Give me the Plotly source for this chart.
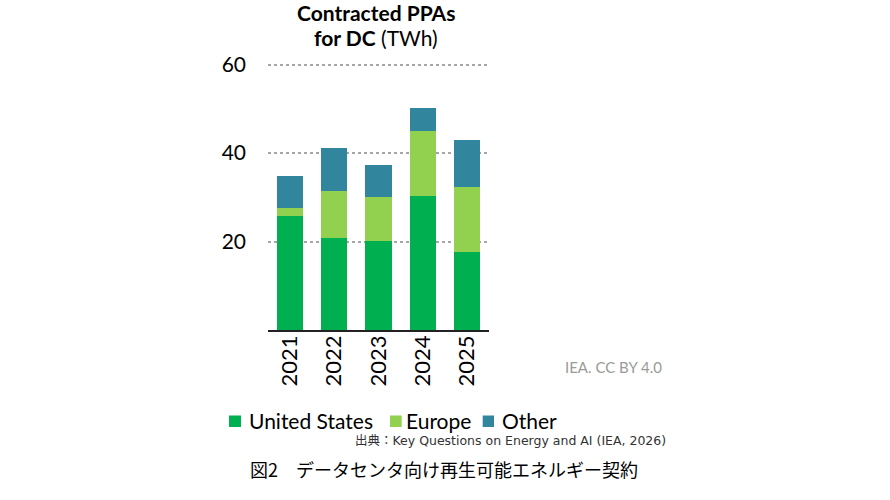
import plotly.graph_objects as go

years = ["2021", "2022", "2023", "2024", "2025"]
united_states = [25.8, 20.7, 20.2, 30.3, 17.6]
europe = [1.7, 10.8, 9.9, 14.7, 14.8]
other = [7.3, 9.7, 7.1, 5.2, 10.6]

y_ticks = [20, 40, 60]

series = [
    ("United States", united_states, "#00B050"),
    ("Europe", europe, "#92D050"),
    ("Other", other, "#31859C"),
]

fig = go.Figure()
for name, vals, col in series:
    fig.add_trace(go.Bar(x=years, y=vals, name=name, marker_color=col,
                         marker_line_width=0))

font = "Lato, 'Open Sans', sans-serif"

fig.update_layout(
    barmode="stack",
    bargap=0.41,
    width=890, height=500,
    margin=dict(l=268, r=401, t=62, b=170, autoexpand=False),
    plot_bgcolor="white",
    paper_bgcolor="white",
    font=dict(family=font, color="#000000"),
    showlegend=False,
)

fig.update_xaxes(
    type="category", range=[-0.5, 4.5],
    tickangle=-90, tickfont=dict(size=22, family=font),
    showline=True, linecolor="#222222", linewidth=1.5,
    ticks="", showgrid=False, ticklabelstandoff=-5,
)
fig.update_yaxes(
    range=[0, 60.6], tickvals=y_ticks, ticktext=[str(t) for t in y_ticks],
    tickfont=dict(size=21, family=font),
    showgrid=True, gridcolor="#A6A6A6", gridwidth=2, griddash="dot",
    zeroline=False, showline=False, ticks="", ticklabelstandoff=21,
)

# title, one annotation per line so nothing pokes out of the page top
title_lines = [("<b>Contracted PPAs</b>", 35), ("<b>for DC</b> (TWh)", 10)]
for txt, shift in title_lines:
    fig.add_annotation(
        text=txt, xref="paper", yref="paper", x=0.489, y=1.0, yshift=shift,
        xanchor="center", yanchor="bottom", showarrow=False,
        font=dict(size=21, family=font, color="#000000"),
    )

# legend drawn by hand (square + label)
legend_sq = [(-0.1765, -0.1222), (0.552, 0.605), (0.9715, 1.0226)]
legend_tx = [-0.0905, 0.62, 1.054]
for (name, _, col), (sx0, sx1), tx in zip(series, legend_sq, legend_tx):
    fig.add_shape(type="rect", xref="paper", yref="paper",
                  x0=sx0, x1=sx1, y0=-0.362, y1=-0.319,
                  fillcolor=col, line_width=0)
    fig.add_annotation(text=name, xref="paper", yref="paper", x=tx, y=-0.336,
                       xanchor="left", yanchor="middle", showarrow=False, borderpad=0,
                       font=dict(size=21, family=font, color="#000000"))

# credit
fig.add_annotation(
    text="IEA. CC BY 4.0", xref="paper", yref="paper",
    x=1.335, y=-0.138, xanchor="left", yanchor="middle", showarrow=False,
    font=dict(size=15, family=font, color="#9A9A9A"),
)

# source line
fig.add_annotation(
    text="出典：Key Questions on Energy and AI (IEA, 2026)",
    xref="paper", yref="paper", x=1.812, y=-0.414, xanchor="right", yanchor="middle",
    showarrow=False, font=dict(size=12.5, family="'DejaVu Sans', 'Noto Sans CJK JP'", color="#333333"),
)

# figure caption
fig.add_annotation(
    text="図2　データセンタ向け再生可能エネルギー契約",
    xref="paper", yref="paper", x=0.796, y=-0.519, xanchor="center", yanchor="middle",
    showarrow=False, font=dict(size=18, family="'Noto Sans CJK JP'", color="#000000"),
)

# page has an 8px body margin by default; drop it so the title fits at the top
fig.write_html("out.html", config={"displayModeBar": False},
               post_script="document.body.style.margin='0';")
